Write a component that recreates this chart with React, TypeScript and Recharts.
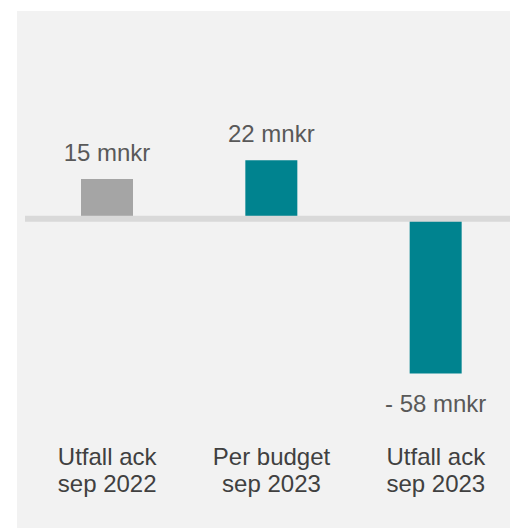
import React from "react";
import { BarChart, Bar, XAxis, YAxis, Cell, LabelList, ReferenceLine } from "recharts";

const categoryLine1 = ["Utfall ack", "Per budget", "Utfall ack"];
const categoryLine2 = ["sep 2022", "sep 2023", "sep 2023"];
const values = [15, 22, -58];
const barColors = ["#A5A5A5", "#00838F", "#00838F"];

const data = values.map((v, i) => ({
  name: `${categoryLine1[i]} ${categoryLine2[i]}`,
  idx: i,
  value: v,
}));

const FONT = "'Liberation Sans', Arial, sans-serif";

const formatLabel = (v: number) => (v < 0 ? `- ${-v} mnkr` : `${v} mnkr`);

const CategoryTick = (props: any) => {
  const { x, y, payload } = props;
  const i = payload.index;
  return (
    <g>
      <text x={x} y={y + 25} textAnchor="middle" fontFamily={FONT} fontSize={24} fill="#404040">
        {categoryLine1[i]}
      </text>
      <text x={x} y={y + 52} textAnchor="middle" fontFamily={FONT} fontSize={24} fill="#404040">
        {categoryLine2[i]}
      </text>
    </g>
  );
};

const ValueLabel = (props: any) => {
  const { x, y, width, height, value } = props;
  const top = Math.min(y, y + height);
  const bottom = Math.max(y, y + height);
  const cx = x + width / 2;
  const ty = value >= 0 ? top - 18 : bottom + 39;
  return (
    <text x={cx} y={ty} textAnchor="middle" fontFamily={FONT} fontSize={24} fill="#595959">
      {formatLabel(value)}
    </text>
  );
};

export default function App() {
  return (
    <div
      style={{
        position: "absolute",
        left: 17,
        top: 11,
        width: 493,
        height: 517,
        background: "#F2F2F2",
        overflow: "hidden",
      }}
    >
      <BarChart
        width={501}
        height={517}
        data={data}
        margin={{ top: 48, right: 0, bottom: 0, left: 8 }}
        barSize={52}
      >
        <XAxis
          dataKey="name"
          axisLine={false}
          tickLine={false}
          height={96}
          interval={0}
          tick={<CategoryTick />}
        />
        <YAxis hide domain={[-80, 60]} allowDataOverflow />
        <Bar dataKey="value" isAnimationActive={false}>
          {data.map((d, i) => (
            <Cell key={i} fill={barColors[i]} />
          ))}
          <LabelList dataKey="value" content={<ValueLabel />} />
        </Bar>
        <ReferenceLine y={0} stroke="#D9D9D9" strokeWidth={6} />
      </BarChart>
    </div>
  );
}
